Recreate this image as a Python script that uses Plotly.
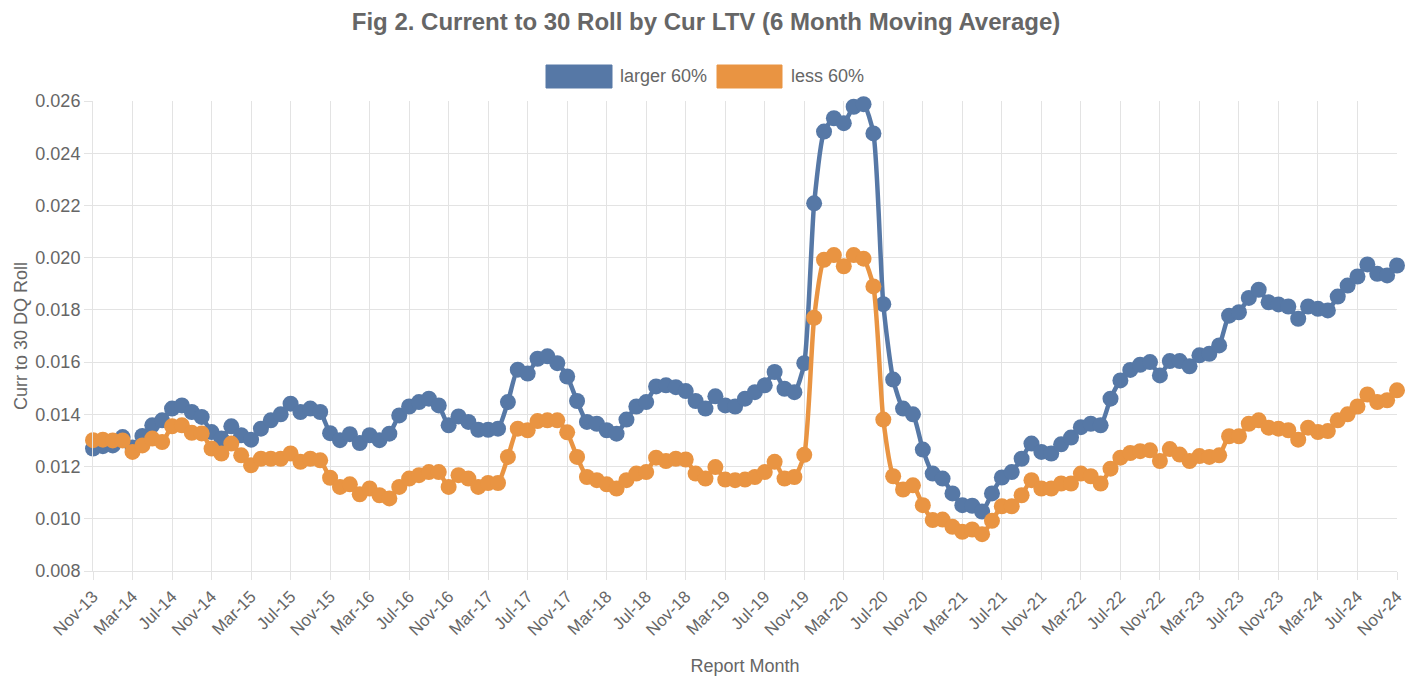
import plotly.graph_objects as go

MONTHS = ["Jan", "Feb", "Mar", "Apr", "May", "Jun", "Jul", "Aug", "Sep", "Oct", "Nov", "Dec"]
# Report months: Nov-13 .. Nov-24 (133 monthly points)
report_month = []
for k in range(133):
    m = (10 + k) % 12
    y = 13 + (10 + k) // 12
    report_month.append(f"{MONTHS[m]}-{y:02d}")

tick_labels = report_month[::4]

larger_60 = [
    0.01269, 0.01278, 0.01281, 0.01313, 0.01273, 0.01317, 0.01358, 0.01377, 0.01422, 0.01434,
    0.01409, 0.01390, 0.01332, 0.01307, 0.01354, 0.01320, 0.01303, 0.01345, 0.01377, 0.01400,
    0.01441, 0.01409, 0.01422, 0.01409, 0.01328, 0.01301, 0.01324, 0.01290, 0.01320, 0.01301,
    0.01326, 0.01396, 0.01430, 0.01447, 0.01460, 0.01434, 0.01358, 0.01392, 0.01371, 0.01341,
    0.01341, 0.01345, 0.01447, 0.01571, 0.01556, 0.01613, 0.01622, 0.01596, 0.01545, 0.01451,
    0.01371, 0.01364, 0.01339, 0.01326, 0.01380, 0.01430, 0.01447, 0.01507, 0.01511, 0.01504,
    0.01489, 0.01451, 0.01422, 0.01469, 0.01434, 0.01430, 0.01460, 0.01485, 0.01511, 0.01562,
    0.01498, 0.01485, 0.01596, 0.02208, 0.02483, 0.02534, 0.02515, 0.02578, 0.02588, 0.02476,
    0.01822, 0.01533, 0.01422, 0.01400, 0.01265, 0.01173, 0.01154, 0.01097, 0.01052, 0.01050,
    0.01028, 0.01097, 0.01158, 0.01179, 0.01230, 0.01288, 0.01256, 0.01250, 0.01285, 0.01311,
    0.01351, 0.01364, 0.01358, 0.01460, 0.01530, 0.01570, 0.01590, 0.01600, 0.01549, 0.01604,
    0.01604, 0.01584, 0.01626, 0.01632, 0.01664, 0.01778, 0.01791, 0.01846, 0.01877, 0.01829,
    0.01821, 0.01813, 0.01766, 0.01813, 0.01804, 0.01798, 0.01851, 0.01893, 0.01928, 0.01974,
    0.01938, 0.01932, 0.01970,
]

less_60 = [
    0.01301, 0.01303, 0.01300, 0.01300, 0.01256, 0.01281, 0.01307, 0.01294, 0.01354, 0.01358,
    0.01329, 0.01327, 0.01269, 0.01250, 0.01288, 0.01243, 0.01205, 0.01230, 0.01230, 0.01230,
    0.01250, 0.01218, 0.01230, 0.01224, 0.01157, 0.01122, 0.01132, 0.01094, 0.01116, 0.01090,
    0.01078, 0.01122, 0.01154, 0.01167, 0.01179, 0.01179, 0.01122, 0.01167, 0.01154, 0.01122,
    0.01137, 0.01137, 0.01237, 0.01345, 0.01339, 0.01374, 0.01377, 0.01377, 0.01331, 0.01237,
    0.01160, 0.01148, 0.01132, 0.01116, 0.01148, 0.01173, 0.01179, 0.01234, 0.01221, 0.01230,
    0.01227, 0.01173, 0.01154, 0.01198, 0.01150, 0.01148, 0.01150, 0.01160, 0.01179, 0.01218,
    0.01154, 0.01160, 0.01245, 0.01770, 0.01992, 0.02010, 0.01967, 0.02010, 0.01996, 0.01890,
    0.01380, 0.01163, 0.01112, 0.01128, 0.01052, 0.00995, 0.00997, 0.00969, 0.00950, 0.00959,
    0.00941, 0.00992, 0.01048, 0.01048, 0.01090, 0.01148, 0.01116, 0.01116, 0.01135, 0.01135,
    0.01173, 0.01163, 0.01135, 0.01192, 0.01234, 0.01252, 0.01259, 0.01262, 0.01221, 0.01267,
    0.01246, 0.01221, 0.01240, 0.01237, 0.01243, 0.01316, 0.01316, 0.01364, 0.01377, 0.01349,
    0.01345, 0.01339, 0.01303, 0.01349, 0.01332, 0.01336, 0.01377, 0.01400, 0.01430, 0.01476,
    0.01447, 0.01454, 0.01492,
]

series = [("larger 60%", larger_60, "rgb(86,120,166)"), ("less 60%", less_60, "rgb(233,148,66)")]

FONT = "Liberation Sans, Arial, sans-serif"
GRID = "#e3e3e3"
TXT = "#666666"

# page geometry (body has 8px margin)
W, H = 1411, 671
ML, MR, MT, MB = 85, 22, 93, 108
PW, PH = W - ML - MR, H - MT - MB


def px_x(page_x):
    return (page_x - 8 - ML) / PW


def px_y(page_y):
    return 1 - (page_y - 8 - MT) / PH


fig = go.Figure()
for name, vals, col in series:
    fig.add_trace(go.Scatter(
        x=report_month, y=vals, mode="lines+markers", name=name,
        line=dict(color=col, width=4.5, shape="spline", smoothing=0.6),
        marker=dict(color=col, size=16),
        cliponaxis=False, showlegend=False,
    ))

# custom legend (Chart.js style boxes)
legend_items = [(546, 612, 618), (717, 782, 789)]
for (bx0, bx1, tx), (name, _, col) in zip(legend_items, series):
    fig.add_shape(type="rect", xref="paper", yref="paper",
                  x0=px_x(bx0), x1=px_x(bx1), y0=px_y(88), y1=px_y(65),
                  fillcolor=col, line=dict(color=col, width=1), layer="above")
    fig.add_annotation(xref="paper", yref="paper", x=px_x(tx), y=px_y(76.5),
                       xanchor="left", yanchor="middle", showarrow=False,
                       text=name, font=dict(family=FONT, size=18, color=TXT))

# y-axis title
fig.add_annotation(xref="paper", yref="paper", x=px_x(9), y=0.5,
                   xanchor="left", yanchor="middle", showarrow=False, textangle=-90,
                   text="Curr to 30 DQ Roll", font=dict(family=FONT, size=18, color=TXT))

fig.update_layout(
    width=W, height=H,
    margin=dict(l=ML, r=MR, t=MT, b=MB),
    paper_bgcolor="white", plot_bgcolor="white",
    font=dict(family=FONT, size=18, color=TXT),
    showlegend=False,
    title=dict(
        text="<b>Fig 2. Current to 30 Roll by Cur LTV (6 Month Moving Average)</b>",
        x=(706 - 8) / W, xanchor="center", y=1 - 14 / H, yanchor="middle", yref="container",
        font=dict(family=FONT, size=24, color=TXT),
    ),
    xaxis=dict(
        type="category", categoryorder="array", categoryarray=report_month,
        range=[0, len(report_month) - 1], automargin=False,
        tickmode="array", tickvals=tick_labels, ticktext=tick_labels,
        tickangle=-45, ticks="outside", ticklen=8, tickcolor=GRID,
        showgrid=True, gridcolor=GRID, gridwidth=1,
        showline=True, linecolor=GRID, zeroline=False,
        tickfont=dict(size=17),
        title=dict(text="Report Month", standoff=20, font=dict(size=18)),
    ),
    yaxis=dict(
        range=[0.008, 0.026], dtick=0.002, tickformat=".3f", automargin=False,
        ticks="outside", ticklen=8, tickcolor=GRID,
        showgrid=True, gridcolor=GRID, gridwidth=1,
        showline=True, linecolor=GRID, zeroline=False,
        tickfont=dict(size=18),
    ),
)

fig.write_html("out.html")
